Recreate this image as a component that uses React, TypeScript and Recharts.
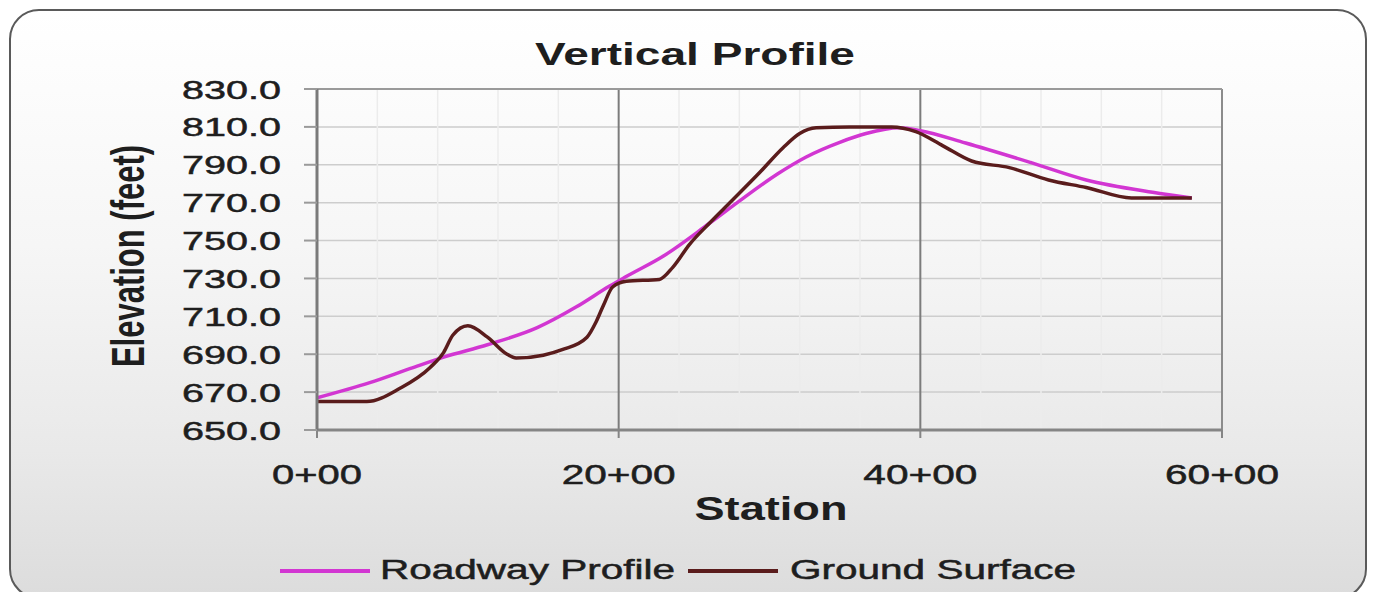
import React from 'react';
import { LineChart, Line, XAxis, YAxis, CartesianGrid, ReferenceLine } from 'recharts';

// Station axis (hundreds of feet) and its labels
const xTickValues = [0, 20, 40, 60];
const xTickLabels = ['0+00', '20+00', '40+00', '60+00'];
const minorStations = [4, 8, 12, 16, 24, 28, 32, 36, 44, 48, 52, 56];

// Elevation axis (feet)
const yTickValues = [650, 670, 690, 710, 730, 750, 770, 790, 810, 830];

// Roadway profile (design grade)
const roadwayStations = [0, 3.5, 6.2, 8.4, 11.3, 14.6, 17.2, 19.4, 20.5, 23, 26, 28.2, 30.5, 32.4, 34.7, 36.4, 38.6, 40, 43, 47.4, 51, 55.4, 58];
const roadwayElevations = [667, 675, 682.5, 688.5, 695, 704, 715, 726, 731, 742, 759, 772, 785, 794, 802, 806.5, 809.5, 808, 801.5, 791, 782, 775.5, 772.5];

// Existing ground surface
const groundStations = [0, 3.3, 5.5, 7.5, 8.4, 9, 10, 11.3, 12.6, 13.2, 15, 16.3, 17.9, 18.5, 19, 19.6, 20.5, 22.7, 23.6, 24.7, 26, 27.5, 29.3, 30.9, 32, 33.1, 35.3, 38.1, 39.7, 41.5, 43.4, 45.9, 48.5, 51, 54, 58];
const groundElevations = [665, 665, 672, 683, 691, 700, 705, 699, 690, 688, 689.5, 692.5, 699, 707, 716, 725.5, 728.5, 729.5, 736, 748, 759, 771, 785.5, 799, 806.5, 809.5, 810, 810, 807.5, 800, 792, 788.5, 782, 778, 772.5, 772.5];

const seriesNames = ['Roadway Profile', 'Ground Surface'];
const seriesColors = ['#d236d2', '#5a1c1c'];

const roadwayData = roadwayStations.map((s, i) => ({ station: s, elevation: roadwayElevations[i] }));
const groundData = groundStations.map((s, i) => ({ station: s, elevation: groundElevations[i] }));

const FONT = '"Liberation Sans", Arial, sans-serif';
const TEXT = '#1e1e1e';

const XTick = (props: any) => {
  const { x, y, payload } = props;
  const idx = xTickValues.indexOf(payload.value);
  const label = idx >= 0 ? xTickLabels[idx] : String(payload.value);
  const len = label.length === 4 ? 90 : 114;
  return (
    <text x={x} y={y + 44} textAnchor="middle" fontFamily={FONT} fontSize={27} fill={TEXT}
      stroke={TEXT} strokeWidth={0.5} textLength={len} lengthAdjust="spacingAndGlyphs">
      {label}
    </text>
  );
};

const YTick = (props: any) => {
  const { y, payload } = props;
  return (
    <text x={281} y={y + 9.5} textAnchor="end" fontFamily={FONT} fontSize={26} fill={TEXT}
      stroke={TEXT} strokeWidth={0.5} textLength={99} lengthAdjust="spacingAndGlyphs">
      {Number(payload.value).toFixed(1)}
    </text>
  );
};

export default function App() {
  return (
    <div style={{ position: 'absolute', left: 0, top: 0, width: 1373, height: 592, overflow: 'hidden', background: '#ffffff' }}>
      <div style={{
        position: 'absolute', left: 9, top: 9, width: 1358, height: 590, boxSizing: 'border-box',
        border: '2px solid #5a5a5a', borderRadius: 30,
        background: 'linear-gradient(to bottom, #ffffff 0%, #f6f6f6 40%, #e9e9e9 75%, #dcdcdc 100%)',
      }} />
      <div style={{ position: 'absolute', left: 0, top: 0 }}>
        <LineChart width={1373} height={592} margin={{ top: 89, right: 151, bottom: 0, left: 0 }}>
          <CartesianGrid vertical={false} stroke="#cdcdcd" strokeWidth={1.5} />
          {minorStations.map((s) => (
            <ReferenceLine key={'m' + s} x={s} stroke="#ececec" strokeWidth={1.5} />
          ))}
          <ReferenceLine x={20} stroke="#7c7c7c" strokeWidth={2} />
          <ReferenceLine x={40} stroke="#7c7c7c" strokeWidth={2} />
          <ReferenceLine x={60} stroke="#8c8c8c" strokeWidth={2} />
          <ReferenceLine y={830} stroke="#9a9a9a" strokeWidth={2} />
          <XAxis
            dataKey="station"
            type="number"
            domain={[0, 60]}
            ticks={xTickValues}
            height={162}
            axisLine={{ stroke: '#858585', strokeWidth: 3 }}
            tickLine={{ stroke: '#858585', strokeWidth: 2 }}
            tickSize={8}
            tick={<XTick />}
            allowDataOverflow
          />
          <YAxis
            dataKey="elevation"
            type="number"
            domain={[650, 830]}
            ticks={yTickValues}
            width={317}
            axisLine={{ stroke: '#7a7a7a', strokeWidth: 3 }}
            tickLine={{ stroke: '#9a9a9a', strokeWidth: 2 }}
            tickSize={13}
            tick={<YTick />}
            allowDataOverflow
          />
          <Line data={roadwayData} dataKey="elevation" name={seriesNames[0]} type="monotone"
            stroke={seriesColors[0]} strokeWidth={3.5} dot={false} isAnimationActive={false} />
          <Line data={groundData} dataKey="elevation" name={seriesNames[1]} type="monotone"
            stroke={seriesColors[1]} strokeWidth={3.5} dot={false} isAnimationActive={false} />

          {/* Title and axis titles */}
          <text x={695} y={65} textAnchor="middle" fontFamily={FONT} fontWeight="bold" fontSize={31}
            fill={TEXT} textLength={320} lengthAdjust="spacingAndGlyphs">Vertical Profile</text>
          <text x={771} y={520} textAnchor="middle" fontFamily={FONT} fontWeight="bold" fontSize={33}
            fill={TEXT} textLength={153} lengthAdjust="spacingAndGlyphs">Station</text>
          <text transform="translate(144,256) scale(1.5,1) rotate(-90)" x={0} y={0} textAnchor="middle"
            fontFamily={FONT} fontWeight="bold" fontSize={31} fill={TEXT}>Elevation (feet)</text>

          {/* Legend */}
          <line x1={280} y1={571} x2={370} y2={571} stroke={seriesColors[0]} strokeWidth={4} />
          <text x={380} y={579} fontFamily={FONT} fontSize={27} fill={TEXT} stroke={TEXT} strokeWidth={0.5}
            textLength={295} lengthAdjust="spacingAndGlyphs">{seriesNames[0]}</text>
          <line x1={688} y1={571} x2={778} y2={571} stroke={seriesColors[1]} strokeWidth={4} />
          <text x={790} y={579} fontFamily={FONT} fontSize={27} fill={TEXT} stroke={TEXT} strokeWidth={0.5}
            textLength={286} lengthAdjust="spacingAndGlyphs">{seriesNames[1]}</text>
        </LineChart>
      </div>
    </div>
  );
}
